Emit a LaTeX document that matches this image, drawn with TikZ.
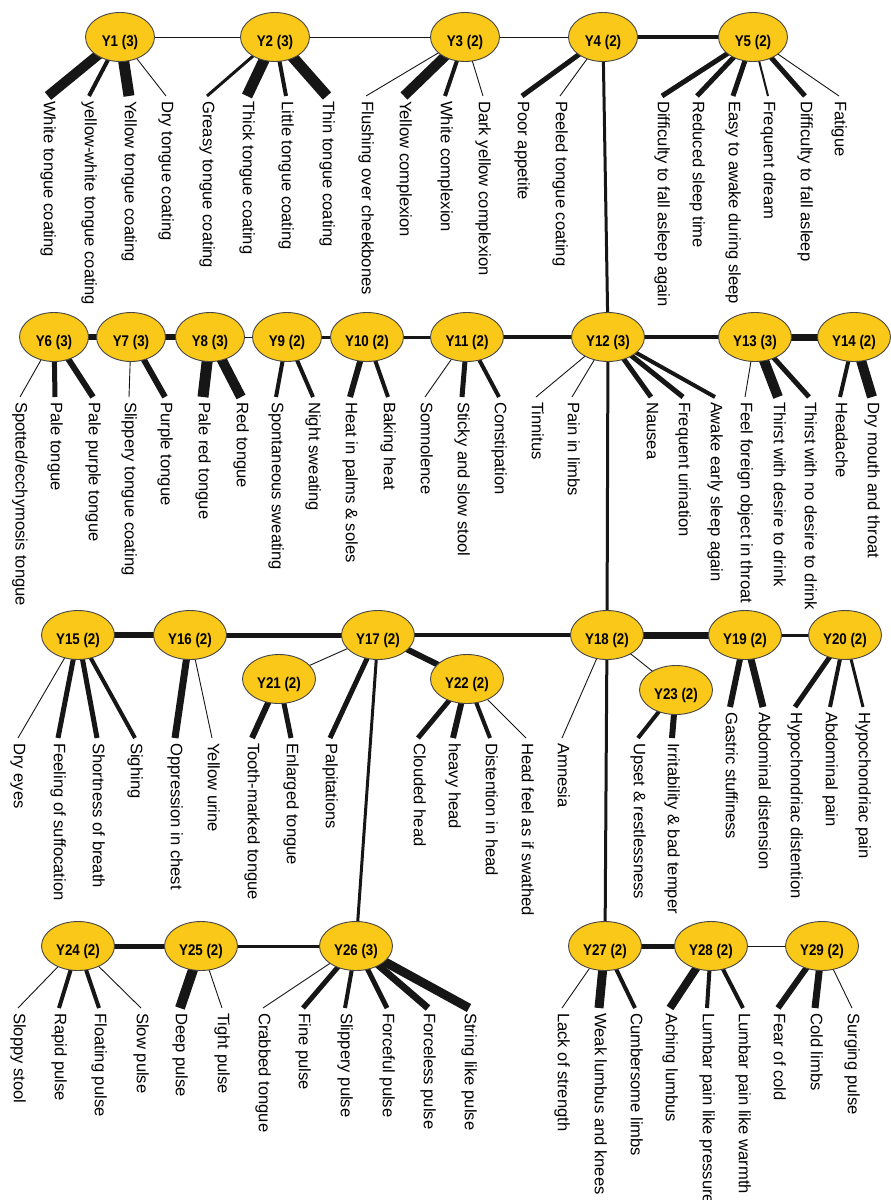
\documentclass[tikz,border=0pt]{standalone}
\usepackage{fontspec}
\usepackage{graphicx}
\setmainfont{Liberation Sans}
\usetikzlibrary{shapes.geometric,backgrounds}
\definecolor{nodeyellow}{RGB}{249,200,24}
\definecolor{edgeblack}{RGB}{22,22,22}
\definecolor{rimgray}{RGB}{70,70,70}
\newcommand{\ylab}[1]{\scalebox{0.86}[1]{#1}}
\begin{document}
\begin{tikzpicture}[x=1pt,y=-1pt,
  lat/.style={ellipse, draw=rimgray, line width=0.9pt, fill=nodeyellow, minimum width=69pt, minimum height=49pt, inner sep=0pt, font=\bfseries\fontsize{15.5}{17}\selectfont, text height=19pt, text depth=0pt},
  latw/.style={lat, minimum width=73pt},
  obs/.style={rotate=-90, anchor=west, inner xsep=5pt, inner ysep=0pt, font=\fontsize{16.6}{20}\selectfont, text height=12pt, text depth=3.5pt},
  w1/.style={draw=edgeblack, line width=0.9pt},
  w2/.style={draw=edgeblack, line width=2pt},
  w3/.style={draw=edgeblack, line width=3pt},
  w4/.style={draw=edgeblack, line width=4pt},
  w5/.style={draw=edgeblack, line width=5pt},
  w6/.style={draw=edgeblack, line width=6pt},
  w7/.style={draw=edgeblack, line width=7pt},
  w8/.style={draw=edgeblack, line width=8pt},
  w9/.style={draw=edgeblack, line width=9pt},
  w10/.style={draw=edgeblack, line width=10pt},
  w11/.style={draw=edgeblack, line width=11pt}]
\useasboundingbox (0,0) rectangle (891,1200);

% latent nodes
\node[lat] (Y1) at (120,37) {\ylab{Y1 (3)}};
\node[lat] (Y2) at (275,37) {\ylab{Y2 (3)}};
\node[lat] (Y3) at (465,37) {\ylab{Y3 (2)}};
\node[lat] (Y4) at (603,37) {\ylab{Y4 (2)}};
\node[lat] (Y5) at (753,37) {\ylab{Y5 (2)}};
\node[lat] (Y6) at (54,337) {\ylab{Y6 (3)}};
\node[lat] (Y7) at (131,337) {\ylab{Y7 (3)}};
\node[lat] (Y8) at (210,337) {\ylab{Y8 (3)}};
\node[lat] (Y9) at (287,337) {\ylab{Y9 (2)}};
\node[latw] (Y10) at (367,337) {\ylab{Y10 (2)}};
\node[latw] (Y11) at (467,337) {\ylab{Y11 (2)}};
\node[latw] (Y12) at (608,337) {\ylab{Y12 (3)}};
\node[latw] (Y13) at (755,337) {\ylab{Y13 (3)}};
\node[latw] (Y14) at (854,337) {\ylab{Y14 (2)}};
\node[latw] (Y15) at (78,635) {\ylab{Y15 (2)}};
\node[latw] (Y16) at (190,635) {\ylab{Y16 (2)}};
\node[latw] (Y17) at (378,635) {\ylab{Y17 (2)}};
\node[latw] (Y18) at (607,635) {\ylab{Y18 (2)}};
\node[latw] (Y19) at (745,635) {\ylab{Y19 (2)}};
\node[latw] (Y20) at (845,635) {\ylab{Y20 (2)}};
\node[latw] (Y21) at (279,679) {\ylab{Y21 (2)}};
\node[latw] (Y22) at (467,679) {\ylab{Y22 (2)}};
\node[latw] (Y23) at (676,690) {\ylab{Y23 (2)}};
\node[latw] (Y24) at (78,946) {\ylab{Y24 (2)}};
\node[latw] (Y25) at (201,946) {\ylab{Y25 (2)}};
\node[latw] (Y26) at (356,946) {\ylab{Y26 (3)}};
\node[latw] (Y27) at (605,946) {\ylab{Y27 (2)}};
\node[latw] (Y28) at (711,946) {\ylab{Y28 (2)}};
\node[latw] (Y29) at (822,946) {\ylab{Y29 (2)}};

% row 1 labels
\node[obs] (l1) at (48,96) {White tongue coating};
\node[obs] (l2) at (89,96) {yellow-white tongue coating};
\node[obs] (l3) at (129,96) {Yellow tongue coating};
\node[obs] (l4) at (166,96) {Dry tongue coating};
\node[obs] (l5) at (207,96) {Greasy tongue coating};
\node[obs] (l6) at (247,96) {Thick tongue coating};
\node[obs] (l7) at (286,96) {Little tongue coating};
\node[obs] (l8) at (327,96) {Thin tongue coating};
\node[obs] (l9) at (366,96) {Flushing over cheekbones};
\node[obs] (l10) at (404,96) {Yellow complexion};
\node[obs] (l11) at (445,96) {White complexion};
\node[obs] (l12) at (483,96) {Dark yellow complexion};
\node[obs] (l13) at (522,96) {Poor appetite};
\node[obs] (l14) at (560,96) {Peeled tongue coating};
\node[obs] (l15) at (662,96) {Difficulty to fall asleep again};
\node[obs] (l16) at (697,96) {Reduced sleep time};
\node[obs] (l17) at (733,96) {Easy to awake during sleep};
\node[obs] (l18) at (768,96) {Frequent dream};
\node[obs] (l19) at (805,96) {Difficulty to fall asleep};
\node[obs] (l20) at (839,96) {Fatigue};

% row 2 labels
\node[obs] (l21) at (20,397) {Spotted/ecchymosis tongue};
\node[obs] (l22) at (55,397) {Pale tongue};
\node[obs] (l23) at (93,397) {Pale purple tongue};
\node[obs] (l24) at (129,397) {Slippery tongue coating};
\node[obs] (l25) at (165,397) {Purple tongue};
\node[obs] (l26) at (203,397) {Pale red tongue};
\node[obs] (l27) at (241,397) {Red tongue};
\node[obs] (l28) at (276,397) {Spontaneous sweating};
\node[obs] (l29) at (313,397) {Night sweating};
\node[obs] (l30) at (350,397) {Heat in palms \& soles};
\node[obs] (l31) at (388,397) {Baking heat};
\node[obs] (l32) at (425,397) {Somnolence};
\node[obs] (l33) at (462,397) {Sticky and slow stool};
\node[obs] (l34) at (499,397) {Constipation};
\node[obs] (l35) at (536,397) {Tinnitus};
\node[obs] (l36) at (572,397) {Pain in limbs};
\node[obs] (l37) at (651,397) {Nausea};
\node[obs] (l38) at (683,397) {Frequent urination};
\node[obs] (l39) at (715,397) {Awake early sleep again};
\node[obs] (l40) at (745,397) {Feel foreign object in throat};
\node[obs] (l41) at (778,397) {Thirst with desire to drink};
\node[obs] (l42) at (809,397) {Thirst with no desire to drink};
\node[obs] (l43) at (840,397) {Headache};
\node[obs] (l44) at (872,397) {Dry mouth and throat};

% row 3 labels
\node[obs] (l45) at (18,738) {Dry eyes};
\node[obs] (l46) at (58,738) {Feeling of suffocation};
\node[obs] (l47) at (97,738) {Shortness of breath};
\node[obs] (l48) at (135,738) {Sighing};
\node[obs] (l49) at (175,738) {Oppression in chest};
\node[obs] (l50) at (212,738) {Yellow urine};
\node[obs] (l51) at (252,738) {Tooth-marked tongue};
\node[obs] (l52) at (291,738) {Enlarged tongue};
\node[obs] (l53) at (330,738) {Palpitations};
\node[obs] (l54) at (418,738) {Clouded head};
\node[obs] (l55) at (453,738) {heavy head};
\node[obs] (l56) at (490,738) {Distention in head};
\node[obs] (l57) at (526,738) {Head feel as if swathed};
\node[obs] (l58) at (562,738) {Amnesia};
\node[obs] (l59) at (638,738) {Upset \& restlessness};
\node[obs] (l60) at (672,738) {Irritability \& bad temper};
\node[obs] (l61) at (730,707) {Gastric stuffiness};
\node[obs] (l62) at (763,707) {Abdominal distension};
\node[obs] (l63) at (795,707) {Hypochondriac distention};
\node[obs] (l64) at (830,707) {Abdominal pain};
\node[obs] (l65) at (863,707) {Hypochondriac pain};

% row 4 labels
\node[obs] (l66) at (18,1008) {Sloppy stool};
\node[obs] (l67) at (59,1008) {Rapid pulse};
\node[obs] (l68) at (99,1008) {Floating pulse};
\node[obs] (l69) at (141,1008) {Slow pulse};
\node[obs] (l70) at (180,1008) {Deep pulse};
\node[obs] (l71) at (222,1008) {Tight pulse};
\node[obs] (l72) at (263,1008) {Crabbed tongue};
\node[obs] (l73) at (303,1008) {Fine pulse};
\node[obs] (l74) at (345,1008) {Slippery pulse};
\node[obs] (l75) at (387,1008) {Forceful pulse};
\node[obs] (l76) at (428,1008) {Forceless pulse};
\node[obs] (l77) at (469,1008) {String like pulse};
\node[obs] (l78) at (562,1008) {Lack of strength};
\node[obs] (l79) at (599,1008) {Weak lumbus and knees};
\node[obs] (l80) at (635,1008) {Cumbersome limbs};
\node[obs] (l81) at (670,1008) {Aching lumbus};
\node[obs] (l82) at (707,1008) {Lumbar pain like pressure};
\node[obs] (l83) at (743,1008) {Lumbar pain like warmth};
\node[obs] (l84) at (778,1008) {Fear of cold};
\node[obs] (l85) at (815,1008) {Cold limbs};
\node[obs] (l86) at (852,1008) {Surging pulse};

\begin{scope}[on background layer]
% latent-latent edges
\draw[w1] (Y1.center) -- (Y2.center);
\draw[w1] (Y2.center) -- (Y3.center);
\draw[w1] (Y3.center) -- (Y4.center);
\draw[w4] (Y4.center) -- (Y5.center);
\draw[w3] (Y4.center) -- (Y12.center);
\draw[w6] (Y6.center) -- (Y7.center);
\draw[w6] (Y7.center) -- (Y8.center);
\draw[w1] (Y8.center) -- (Y9.center);
\draw[w3] (Y9.center) -- (Y10.center);
\draw[w3] (Y10.center) -- (Y11.center);
\draw[w4] (Y11.center) -- (Y12.center);
\draw[w4] (Y12.center) -- (Y13.center);
\draw[w7] (Y13.center) -- (Y14.center);
\draw[w3] (Y12.center) -- (Y18.center);
\draw[w6] (Y15.center) -- (Y16.center);
\draw[w5] (Y16.center) -- (Y17.center);
\draw[w4] (Y17.center) -- (Y18.center);
\draw[w7] (Y18.center) -- (Y19.center);
\draw[w3] (Y19.center) -- (Y20.center);
\draw[w1] (Y17.center) -- (Y21.center);
\draw[w6] (Y17.center) -- (Y22.center);
\draw[w1] (Y18.center) -- (Y23.center);
\draw[w3] (Y17.center) -- (Y26.center);
\draw[w3] (Y18.center) -- (Y27.center);
\draw[w5] (Y24.center) -- (Y25.center);
\draw[w3] (Y25.center) -- (Y26.center);
\draw[w5] (Y27.center) -- (Y28.center);
\draw[w1] (Y28.center) -- (Y29.center);
% leaf edges
\draw[w10] (Y1.center) -- (l1.west);
\draw[w4] (Y1.center) -- (l2.west);
\draw[w11] (Y1.center) -- (l3.west);
\draw[w1] (Y1.center) -- (l4.west);
\draw[w3] (Y2.center) -- (l5.west);
\draw[w11] (Y2.center) -- (l6.west);
\draw[w4] (Y2.center) -- (l7.west);
\draw[w11] (Y2.center) -- (l8.west);
\draw[w1] (Y3.center) -- (l9.west);
\draw[w10] (Y3.center) -- (l10.west);
\draw[w4] (Y3.center) -- (l11.west);
\draw[w1] (Y3.center) -- (l12.west);
\draw[w5] (Y4.center) -- (l13.west);
\draw[w1] (Y4.center) -- (l14.west);
\draw[w5] (Y5.center) -- (l15.west);
\draw[w5] (Y5.center) -- (l16.west);
\draw[w5] (Y5.center) -- (l17.west);
\draw[w2] (Y5.center) -- (l18.west);
\draw[w5] (Y5.center) -- (l19.west);
\draw[w1] (Y5.center) -- (l20.west);
\draw[w1] (Y6.center) -- (l21.west);
\draw[w5] (Y6.center) -- (l22.west);
\draw[w6] (Y6.center) -- (l23.west);
\draw[w1] (Y7.center) -- (l24.west);
\draw[w6] (Y7.center) -- (l25.west);
\draw[w11] (Y8.center) -- (l26.west);
\draw[w10] (Y8.center) -- (l27.west);
\draw[w4] (Y9.center) -- (l28.west);
\draw[w4] (Y9.center) -- (l29.west);
\draw[w6] (Y10.center) -- (l30.west);
\draw[w4] (Y10.center) -- (l31.west);
\draw[w1] (Y11.center) -- (l32.west);
\draw[w5] (Y11.center) -- (l33.west);
\draw[w4] (Y11.center) -- (l34.west);
\draw[w1] (Y12.center) -- (l35.west);
\draw[w1] (Y12.center) -- (l36.west);
\draw[w5] (Y12.center) -- (l37.west);
\draw[w5] (Y12.center) -- (l38.west);
\draw[w4] (Y12.center) -- (l39.west);
\draw[w1] (Y13.center) -- (l40.west);
\draw[w10] (Y13.center) -- (l41.west);
\draw[w5] (Y13.center) -- (l42.west);
\draw[w4] (Y14.center) -- (l43.west);
\draw[w10] (Y14.center) -- (l44.west);
\draw[w1] (Y15.center) -- (l45.west);
\draw[w5] (Y15.center) -- (l46.west);
\draw[w5] (Y15.center) -- (l47.west);
\draw[w4] (Y15.center) -- (l48.west);
\draw[w7] (Y16.center) -- (l49.west);
\draw[w1] (Y16.center) -- (l50.west);
\draw[w6] (Y21.center) -- (l51.west);
\draw[w5] (Y21.center) -- (l52.west);
\draw[w5] (Y17.center) -- (l53.west);
\draw[w5] (Y22.center) -- (l54.west);
\draw[w6] (Y22.center) -- (l55.west);
\draw[w4] (Y22.center) -- (l56.west);
\draw[w1] (Y22.center) -- (l57.west);
\draw[w1] (Y18.center) -- (l58.west);
\draw[w4] (Y23.center) -- (l59.west);
\draw[w6] (Y23.center) -- (l60.west);
\draw[w6] (Y19.center) -- (l61.west);
\draw[w7] (Y19.center) -- (l62.west);
\draw[w5] (Y20.center) -- (l63.west);
\draw[w4] (Y20.center) -- (l64.west);
\draw[w3] (Y20.center) -- (l65.west);
\draw[w1] (Y24.center) -- (l66.west);
\draw[w4] (Y24.center) -- (l67.west);
\draw[w4] (Y24.center) -- (l68.west);
\draw[w1] (Y24.center) -- (l69.west);
\draw[w10] (Y25.center) -- (l70.west);
\draw[w1] (Y25.center) -- (l71.west);
\draw[w1] (Y26.center) -- (l72.west);
\draw[w5] (Y26.center) -- (l73.west);
\draw[w4] (Y26.center) -- (l74.west);
\draw[w5] (Y26.center) -- (l75.west);
\draw[w7] (Y26.center) -- (l76.west);
\draw[w9] (Y26.center) -- (l77.west);
\draw[w1] (Y27.center) -- (l78.west);
\draw[w9] (Y27.center) -- (l79.west);
\draw[w4] (Y27.center) -- (l80.west);
\draw[w8] (Y28.center) -- (l81.west);
\draw[w4] (Y28.center) -- (l82.west);
\draw[w4] (Y28.center) -- (l83.west);
\draw[w6] (Y29.center) -- (l84.west);
\draw[w7] (Y29.center) -- (l85.west);
\draw[w1] (Y29.center) -- (l86.west);
\end{scope}
\end{tikzpicture}
\end{document}
